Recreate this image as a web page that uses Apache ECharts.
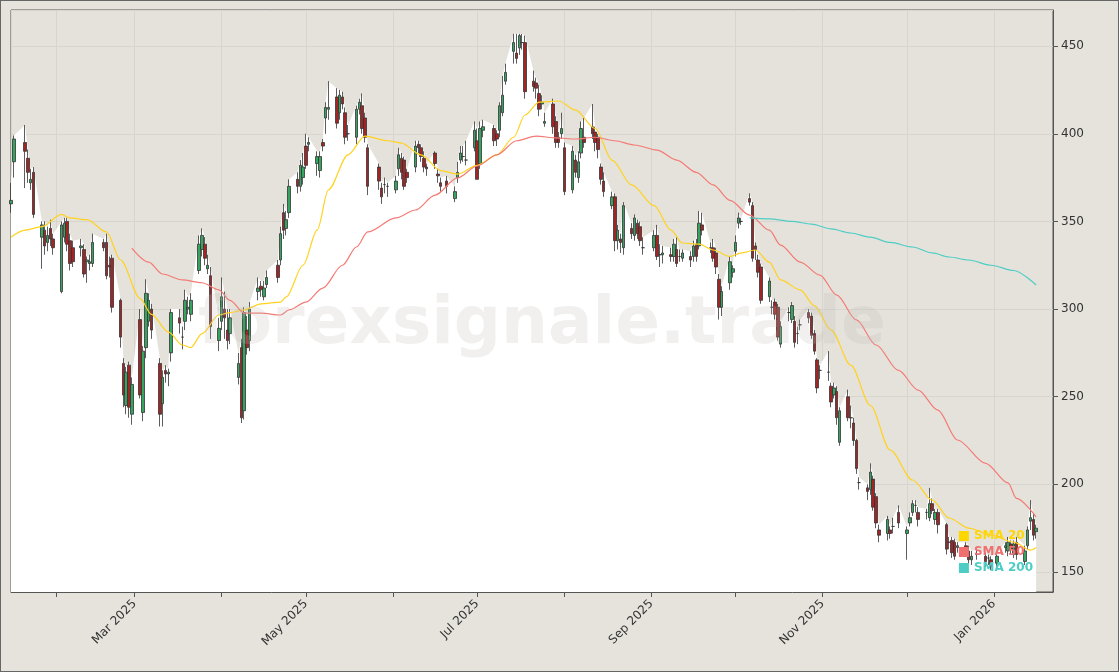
<!DOCTYPE html>
<html>
<head>
<meta charset="utf-8">
<script src="https://cdn.jsdelivr.net/npm/echarts@6/dist/echarts.min.js"></script>
<style>
  html, body { margin: 0; padding: 0; background: #e6e3dd; }
  #chart { width: 1117px; height: 670px; border: 1px solid #666; }
</style>
</head>
<body>
<div id="chart"></div>
<script>
// candles: [open, close, low, high], one per trading day from 2025-01-16
const candles = [
  [360,362,355,372],[384,397,375,399],[395,390,369,405],[386,378,372,391],[372,374,368,380],
  [378,354,352,381],[341,348,323,350],[345,336,331,350],[338,342,333,347],[346,340,336,351],
  [340,335,331,343],[310,348,309,350],[341,349,338,352],[350,337,333,352],[339,326,322,343],
  [335,327,324,339],[335,336,330,340],[334,320,318,337],[327,328,315,330],[326,327,322,331],
  [326,338,324,343],[338,335,333,340],[338,319,317,343],[325,324,318,330],[329,301,298,331],
  [305,284,278,306],[269,251,244,272],[245,264,240,267],[268,244,238,270],[240,257,234,261],
  [294,251,249,300],[241,276,236,279],[278,309,272,317],[293,305,290,309],[300,288,283,303],
  [269,240,233,272],[246,261,233,265],[265,263,258,268],[263,264,256,266],[275,298,270,300],
  [295,292,286,300],[284,284,277,290],[293,305,288,311],[300,301,297,307],[297,305,293,309],
  [322,337,320,342],[334,342,330,346],[337,329,325,341],[323,325,320,331],[319,290,283,324],
  [282,289,276,295],[293,307,288,318],[300,295,283,310],[288,282,277,300],[286,295,280,300],
  [261,269,257,275],[278,238,235,283],[242,298,237,301],[288,278,274,296],[282,300,276,304],
  [310,312,305,318],[313,311,307,316],[307,312,305,316],[314,318,312,322],
  [325,318,315,328],[328,343,325,347],[355,345,340,360],[346,351,342,356],[355,370,352,374],
  [374,370,366,378],[370,382,367,385],[375,381,371,389],[393,382,380,400],[394,395,390,398],
  [383,387,376,390],[379,387,375,390],[395,393,390,397],[409,415,400,418],[414,415,408,430],
  [421,406,403,426],[412,422,408,425],[421,417,414,424],[412,398,394,415],[400,400,396,405],
  [398,414,394,416],[414,418,411,420],[416,403,400,423],[409,398,395,412],[392,370,365,394],
  [381,373,368,383],[369,364,360,372],[371,371,366,375],[370,370,364,372],[368,373,366,376],
  [380,388,376,392],[386,378,374,389],[385,370,368,387],[378,375,372,380],[381,393,378,396],
  [394,392,389,396],[392,387,384,394],[386,381,378,390],[381,380,376,383],[389,383,380,390],
  [377,376,372,380],[372,370,367,375],[373,370,366,376],[363,367,361,370],[375,378,372,384],
  [385,389,383,393],[387,387,384,393],[385,385,382,396],[392,402,390,407],[396,374,374,403],
  [383,403,380,407],[402,404,398,408],[403,396,393,405],[400,397,393,402],[402,416,398,418],
  [412,422,410,433],[430,435,428,440],[447,452,440,457],[446,443,440,457],[449,456,445,457],
  [452,452,448,457],[452,424,420,456],[430,427,424,436],[429,426,420,432],
  [423,414,410,428],[417,418,414,422],[406,407,404,412],[417,404,400,420],[407,395,392,410],
  [398,395,392,401],[400,403,397,412],[392,367,365,395],[368,390,366,393],[385,378,375,388],
  [375,384,372,390],[389,403,386,407],[398,395,392,409],[404,400,397,417],[401,395,390,404],
  [398,391,386,400],[381,374,371,383],[373,367,364,378],[359,364,357,367],[364,339,333,366],
  [339,345,334,348],[340,338,332,343],[335,359,331,361],[346,343,340,349],[342,352,339,354],
  [349,343,340,351],[347,339,336,350],[335,335,331,341],[335,342,333,345],[342,330,328,348],
  [331,331,324,337],[331,332,326,336],[331,330,327,335],[330,337,327,340],[334,326,324,341],
  [330,330,327,334],[329,332,327,334],[330,328,324,333],[330,336,327,339],[337,330,327,340],
  [336,349,334,356],[348,345,342,355],[335,335,332,338],[335,329,327,340],[332,324,320,335],
  [317,301,294,320],[301,310,296,313],[315,327,311,330],[321,323,318,325],[333,338,330,342],
  [349,352,346,355],[350,350,348,352],[363,361,359,366],[359,329,327,361],[336,334,328,338],
  [328,321,318,331],[324,305,303,326],[307,316,304,318],[301,301,297,305],[304,297,294,306],
  [301,284,282,303],[280,290,278,293],[298,298,293,301],
  [294,302,292,304],[293,281,278,296],[286,286,280,290],[291,291,288,294],[298,295,292,300],
  [296,285,283,298],[286,276,274,288],[271,255,252,272],[265,265,260,268],[264,264,259,276],
  [256,247,244,258],[251,255,249,258],[253,238,234,256],[224,242,222,244],[250,238,236,254],
  [238,238,232,245],[235,225,222,238],[225,209,206,226],[201,201,197,204],[198,196,191,200],
  [197,207,194,212],[203,187,185,205],[193,178,175,195],[174,171,167,177],[172,180,168,182],
  [174,172,169,176],[176,176,172,181],[184,178,175,188],[172,174,157,176],[178,181,176,184],
  [184,189,182,191],[188,188,184,191],[184,180,176,187],[184,184,180,186],[181,189,179,198],
  [189,185,183,192],[180,184,177,186],[184,177,172,186],[177,163,160,178],[167,167,163,170],
  [168,161,158,170],[167,159,157,169],[164,165,161,167],[165,164,160,167],[162,157,155,165],
  [157,159,154,162],[160,160,157,163],[159,156,153,161],[158,158,154,160],[157,153,151,159],
  [155,159,153,161],[164,165,161,167],[162,167,159,170],[166,163,160,168],[160,166,158,168],
  [167,160,157,170],[156,162,154,165],[165,174,163,176],[179,181,174,191],[180,171,168,183],
  [173,175,169,177]
];

const holidays = ['2025-01-20','2025-02-17','2025-04-18','2025-05-26','2025-06-19','2025-07-04',
  '2025-09-01','2025-11-27','2025-12-25','2026-01-01'];

// moving averages: [candle index, value]
const sma20 = [[0,341],[2,345],[6,347],[11,354],[14,352],[18,351],[22,344],[25,328],[30,306],[34,297],
  [38,287],[41,279.5],[44,278],[46,286],[50,296.6],[54,298],[57,299.5],[61,303],[65,304],[67,307],
  [71,325],[74,345],[78,368],[83,388],[87,398.7],[92,396],[95,394.7],[100,388],[105,379],[108,377],
  [113,382],[117,388],[121,398],[125,410.7],[128,418],[133,418.7],[137,413.5],[142,403],[146,385],
  [151,370.8],[156,359],[160,345],[164,337.7],[168,337],[171,333.7],[175,330],[179,332],[182,333.7],
  [185,326.8],[189,316.6],[194,311],[197,302],[201,288],[206,268],[211,245],[216,219.6],[221,202.5],
  [226,191],[230,180.8],[235,175],[240,171],[245,167],[249,162.5],[251,164]];
const sma50 = [[29,334.8],[33,326.8],[36,320],[41,316.6],[46,315],[50,311],[54,305],[57,297.7],[61,297.7],
  [65,296.6],[68,299.5],[72,304],[76,312],[81,325],[84,335.4],[88,344],[93,352],[98,356.5],[103,365],
  [108,374.8],[113,381.6],[117,388],[122,396],[127,398.7],[132,397.6],[137,397],[142,398],[147,396],
  [152,393.6],[157,390.7],[162,385],[167,378],[171,370.8],[175,362],[180,353.6],[185,345],[189,336.5],
  [194,326.8],[199,319.4],[203,308],[208,293.8],[213,279.5],[218,265],[223,253.8],[228,242.4],
  [233,225.3],[238,212],[243,200.8],[246,192],[251,181.4]];
const sma200 = [[180,352],[185,351.4],[191,350],[196,348.5],[201,345.7],[206,343.4],[211,341],[216,338],
  [221,335.4],[226,332],[230,329.7],[235,328],[240,325],[245,322],[251,313.7]];

const monthNames = ['Jan','Feb','Mar','Apr','May','Jun','Jul','Aug','Sep','Oct','Nov','Dec'];

// trading dates
let dates = [];
let d = new Date(Date.UTC(2025, 0, 16));
while (dates.length < candles.length) {
  const s = d.toISOString().slice(0, 10);
  const wd = d.getUTCDay();
  if (wd !== 0 && wd !== 6 && holidays.indexOf(s) < 0) dates.push(s);
  d = new Date(d.getTime() + 86400000);
}

const candleData = candles.map((c, i) => [dates[i], c[0], c[1], c[2], c[3]]);
const highArea = candles.map((c, i) => [dates[i], c[3]]);
const toLine = arr => arr.map(p => [dates[p[0]], p[1]]);

const chart = echarts.init(document.getElementById('chart'));
chart.setOption({
  backgroundColor: '#e6e3dd',
  animation: false,
  grid: { left: 10, right: 65, top: 9, bottom: 79, show: true, backgroundColor: '#e5e2dc', borderColor: '#555', borderWidth: 1 },
  graphic: [{
    type: 'text', left: 197, top: 292, z: 100, silent: true,
    style: { text: 'forexsignale.trade', fontSize: 66, fontWeight: 'bold', fontFamily: 'DejaVu Sans', fill: 'rgba(190,186,180,0.22)' }
  }],
  legend: {
    orient: 'vertical', right: 80, bottom: 92, itemWidth: 10, itemHeight: 10, itemGap: 4,
    icon: 'rect',
    textStyle: { fontWeight: 'bold', fontSize: 12, fontFamily: 'DejaVu Sans' },
    data: [
      { name: 'SMA 20', textStyle: { color: '#ffd700' } },
      { name: 'SMA 50', textStyle: { color: '#f07070' } },
      { name: 'SMA 200', textStyle: { color: '#4ecdc4' } }
    ]
  },
  xAxis: {
    type: 'time',
    min: '2025-01-16', max: '2026-01-22',
    minInterval: 28 * 86400000, maxInterval: 31 * 86400000,
    axisLine: { show: true, lineStyle: { color: '#555' } },
    axisTick: { show: true, lineStyle: { color: '#555' } },
    splitLine: { show: true, lineStyle: { color: '#d8d5cf', width: 1 } },
    axisLabel: {
      rotate: 45, color: '#333', fontSize: 12, fontFamily: 'DejaVu Sans', margin: 10,
      formatter: v => {
        const t = new Date(v);
        if (t.getUTCMonth() % 2 !== 0) return '';
        return monthNames[t.getUTCMonth()] + ' ' + t.getUTCFullYear();
      }
    }
  },
  yAxis: {
    type: 'value', position: 'right', min: 138.6, max: 470.6, scale: true,
    axisLine: { show: true, lineStyle: { color: '#555' } },
    axisTick: { show: true, lineStyle: { color: '#555' } },
    splitLine: { lineStyle: { color: '#d8d5cf' } },
    axisLabel: { color: '#333', fontSize: 12, fontFamily: 'DejaVu Sans', showMinLabel: false, showMaxLabel: false }
  },
  series: [
    {
      name: 'area', type: 'line', data: highArea, symbol: 'none', silent: true, z: 1,
      lineStyle: { width: 0 }, areaStyle: { color: '#ffffff', opacity: 1 }
    },
    {
      name: 'price', type: 'candlestick', data: candleData,
      barWidth: 3, z: 3,
      itemStyle: { color: '#35a45e', color0: '#a32424', borderColor: '#333', borderColor0: '#333', borderWidth: 0.8 }
    },
    { name: 'SMA 20', type: 'line', data: toLine(sma20), smooth: 0.3, smoothMonotone: 'x', symbol: 'none', z: 4,
      lineStyle: { color: '#ffd21f', width: 1.2 }, itemStyle: { color: '#ffd700' } },
    { name: 'SMA 50', type: 'line', data: toLine(sma50), smooth: 0.3, smoothMonotone: 'x', symbol: 'none', z: 4,
      lineStyle: { color: '#f47a74', width: 1.2 }, itemStyle: { color: '#f07070' } },
    { name: 'SMA 200', type: 'line', data: toLine(sma200), smooth: 0.3, smoothMonotone: 'x', symbol: 'none', z: 4,
      lineStyle: { color: '#4ecdc4', width: 1.2 }, itemStyle: { color: '#4ecdc4' } }
  ]
});
</script>
</body>
</html>
